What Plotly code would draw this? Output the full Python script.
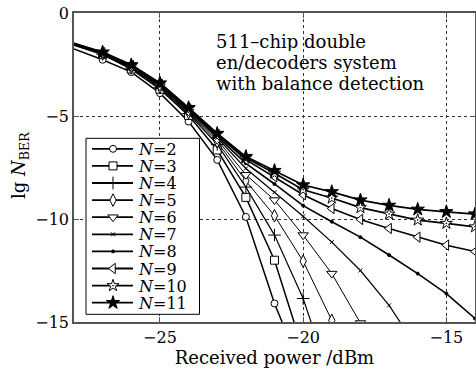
import plotly.graph_objects as go

# ---------------- data ----------------
power_dbm = [-28, -27, -26, -25, -24, -23, -22, -21, -20, -19, -18, -17, -16, -15, -14]

ber_n2 = [-1.75, -2.27, -2.87, -3.89, -5.27, -7.13, -9.90, -14.10, -17.5]
ber_n3 = [-1.56, -2.02, -2.72, -3.70, -4.97, -6.65, -8.95, -12.00, -16.4]
ber_n4 = [-1.54, -2.00, -2.68, -3.63, -4.88, -6.38, -8.45, -10.78, -13.86, -18.0]
ber_n5 = [-1.53, -1.98, -2.65, -3.59, -4.83, -6.25, -8.15, -9.84, -12.05, -14.92]
ber_n6 = [-1.52, -1.97, -2.62, -3.55, -4.78, -6.15, -7.85, -9.08, -10.78, -12.65, -15.05]
ber_n7 = [-1.51, -1.95, -2.60, -3.51, -4.74, -6.06, -7.55, -8.70, -9.87, -11.12, -12.50, -14.19, -16.3]
ber_n8 = [-1.50, -1.94, -2.58, -3.48, -4.70, -5.98, -7.30, -8.30, -9.35, -10.13, -10.88, -11.75, -12.65, -13.62, -14.83]
ber_n9 = [-1.49, -1.93, -2.56, -3.45, -4.66, -5.92, -7.12, -7.95, -8.82, -9.49, -10.02, -10.46, -10.88, -11.27, -11.58]
ber_n10 = [-1.48, -1.92, -2.54, -3.43, -4.63, -5.88, -7.03, -7.78, -8.58, -8.98, -9.45, -9.76, -10.05, -10.21, -10.38]
ber_n11 = [-1.47, -1.90, -2.52, -3.40, -4.60, -5.85, -6.97, -7.65, -8.35, -8.68, -9.08, -9.34, -9.53, -9.65, -9.76]

series_names = ["2", "3", "4", "5", "6", "7", "8", "9", "10", "11"]
series_values = [ber_n2, ber_n3, ber_n4, ber_n5, ber_n6, ber_n7, ber_n8, ber_n9, ber_n10, ber_n11]

x_ticks = [-25, -20, -15]
y_ticks = [0, -5, -10, -15]
X_RANGE = [-28, -14]
Y_RANGE = [-15, 0]

# ---------------- layout geometry (page pixels; body margin removed) ----------------
W, H = 476, 370
PL, PR, PT, PB = 74, 475, 13, 322          # plot area in page pixels
ML, MT, MR, MB = PL, PT, W - PR, H - PB


def px_to_x(px):
    return X_RANGE[0] + (px - PL) / (PR - PL) * (X_RANGE[1] - X_RANGE[0])


def py_to_y(py):
    return Y_RANGE[1] - (py - PT) / (PB - PT) * (Y_RANGE[1] - Y_RANGE[0])


# ---------------- styles ----------------
FONT = "DejaVu Serif"
styles = [
    dict(symbol="circle", size=7, color="white", lw=1.5),
    dict(symbol="square", size=8, color="white", lw=1.5),
    dict(symbol="cross-thin", size=9, color="black", lw=1.2),
    dict(symbol="diamond-tall", size=9, color="white", lw=1.0),
    dict(symbol="triangle-down", size=9, color="white", lw=1.0),
    dict(symbol="x-thin", size=4, color="black", lw=1.2),
    dict(symbol="circle", size=3, color="black", lw=1.6),
    dict(symbol="triangle-left", size=9, color="white", lw=1.6),
    dict(symbol="star-dot", size=9, color="white", lw=1.8),
    dict(symbol="star", size=10, color="black", lw=1.8),
]

fig = go.Figure()

for name, vals, st in zip(series_names, series_values, styles):
    xs = power_dbm[:len(vals)]
    fig.add_trace(go.Scatter(x=xs, y=vals, mode="lines",
                             line=dict(color="black", width=st["lw"]),
                             showlegend=False, hoverinfo="skip"))
    fig.add_trace(go.Scatter(x=xs[1:], y=vals[1:], mode="markers",
                             marker=dict(symbol=st["symbol"], size=st["size"], color=st["color"],
                                         line=dict(color="black", width=1)),
                             showlegend=False, name="N=" + name))

# ---------------- custom legend ----------------
leg_x0, leg_x1, leg_y0, leg_y1 = 86, 199.5, 138.3, 314.3
row0, row_step = 148.8, 17.1
fig.add_shape(type="rect", xref="x", yref="y",
              x0=px_to_x(leg_x0), x1=px_to_x(leg_x1), y0=py_to_y(leg_y1), y1=py_to_y(leg_y0),
              line=dict(color="black", width=1), fillcolor="white", layer="between")

for i, (name, st) in enumerate(zip(series_names, styles)):
    yc = py_to_y(row0 + row_step * i)
    fig.add_trace(go.Scatter(x=[px_to_x(92), px_to_x(133)], y=[yc, yc], mode="lines",
                             line=dict(color="black", width=1.8),
                             showlegend=False, hoverinfo="skip"))
    fig.add_trace(go.Scatter(x=[px_to_x(113)], y=[yc], mode="markers",
                             marker=dict(symbol=st["symbol"], size=st["size"], color=st["color"],
                                         line=dict(color="black", width=1)),
                             showlegend=False, hoverinfo="skip"))
    fig.add_annotation(x=px_to_x(136), y=yc, xref="x", yref="y", xanchor="left", yanchor="middle",
                       text="<i>N</i>=" + name, showarrow=False, height=16,
                       font=dict(family=FONT, size=16, color="black"))

# descriptive text
for txt, yc in [("511\u2013chip double", 40.5), ("en/decoders system", 61.5),
                ("with balance detection", 82.5)]:
    fig.add_annotation(x=px_to_x(214), y=py_to_y(yc), xref="x", yref="y",
                       xanchor="left", yanchor="middle", height=20,
                       text=txt, showarrow=False, font=dict(family=FONT, size=18, color="black"))

# y-axis title
fig.add_annotation(x=(20 - PL) / (PR - PL), y=(PB - 166) / (PB - PT), xref="paper", yref="paper",
                   xanchor="center", yanchor="middle",
                   text="lg <i>N</i><sub>BER</sub>", textangle=-90, showarrow=False,
                   font=dict(family=FONT, size=18, color="black"))

axis_common = dict(showline=True, linecolor="#555", linewidth=1.5, mirror="ticks",
                   ticks="inside", ticklen=5, tickcolor="#555", zeroline=False,
                   showgrid=True, gridcolor="#333", gridwidth=1, griddash="3px,3px",
                   ticklabeloverflow="allow",
                   tickfont=dict(family=FONT, size=16, color="black"))

fig.update_layout(
    width=W, height=H,
    margin=dict(l=ML, r=MR, t=MT, b=MB, autoexpand=False),
    paper_bgcolor="white", plot_bgcolor="white",
    showlegend=False,
    xaxis=dict(range=X_RANGE, tickvals=x_ticks, **axis_common,
               title=dict(text="Received power /dBm", font=dict(family=FONT, size=18, color="black"),
                          standoff=3)),
    yaxis=dict(range=Y_RANGE, tickvals=y_ticks, **axis_common),
)

fig.write_html("out.html", config={"displayModeBar": False},
               post_script="document.body.style.margin='0';document.body.style.overflow='hidden';")
